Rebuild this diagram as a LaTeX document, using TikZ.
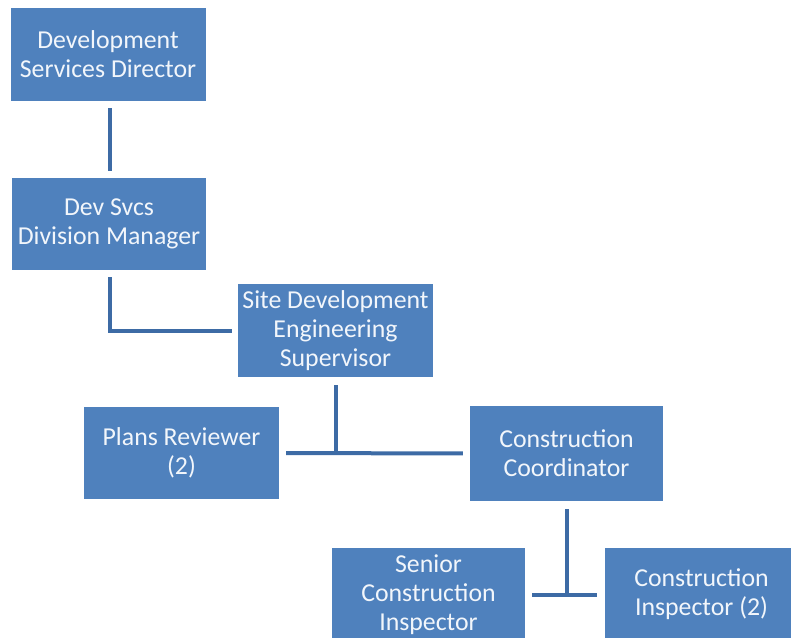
\documentclass[tikz,border=0pt]{standalone}
\usepackage{fontspec}
\setmainfont{Carlito}
\definecolor{boxblue}{HTML}{4F81BD}
\definecolor{lineblue}{HTML}{3D6BA5}
\definecolor{txt}{HTML}{F2F6FB}
\begin{document}
\begin{tikzpicture}[x=1pt,y=-1pt,
  orgbox/.style={fill=boxblue, draw=none, minimum width=195pt, minimum height=93pt,
    align=center, text=txt, font=\fontsize{25.8}{29}\selectfont, inner sep=0pt},
  conn/.style={draw=lineblue, line width=4pt}]
\useasboundingbox (0,0) rectangle (791,637);
\begin{scope}
\clip (0,0) rectangle (791,637);
\node[orgbox] (b1) at (108,54.5) {Development\\Services Director};
\node[orgbox, minimum width=194pt, minimum height=92pt] (b2) at (109,224) {Dev Svcs\\Division Manager};
\node[orgbox] (b3) at (335.5,330.5) {Site Development\\Engineering\\Supervisor};
\node[orgbox, minimum height=92pt] (b4) at (181.5,453) {Plans Reviewer\\(2)};
\node[orgbox, minimum width=193pt, minimum height=95pt] (b5) at (566.5,453.5) {Construction\\Coordinator};
\node[orgbox, minimum width=193pt] (b6) at (428.5,594.5) {Senior\\Construction\\Inspector};
\node[orgbox, minimum width=193pt] (b7) at (701.5,594.5) {Construction\\Inspector (2)};
\end{scope}
\coordinate (j1) at (b3.south |- b4.east);
\coordinate (j2) at (b5.south |- b6.east);
\draw[conn, shorten <=7pt, shorten >=7pt] (b1.south -| 110,0) -- (b2.north -| 110,0);
\draw[conn, shorten <=7pt, shorten >=6pt] (b2.south -| 110,0) |- (b3.west);
\draw[conn, shorten <=8pt, shorten >=-2pt] (b3.south) -- (j1);
\draw[conn, shorten <=7pt, shorten >=7pt] (b4.east) -- (b5.west);
\draw[conn, shorten <=8pt, shorten >=-2pt] (b5.south) -- (j2);
\draw[conn, shorten <=7pt, shorten >=8pt] (b6.east) -- (b7.west);
\end{tikzpicture}
\end{document}
